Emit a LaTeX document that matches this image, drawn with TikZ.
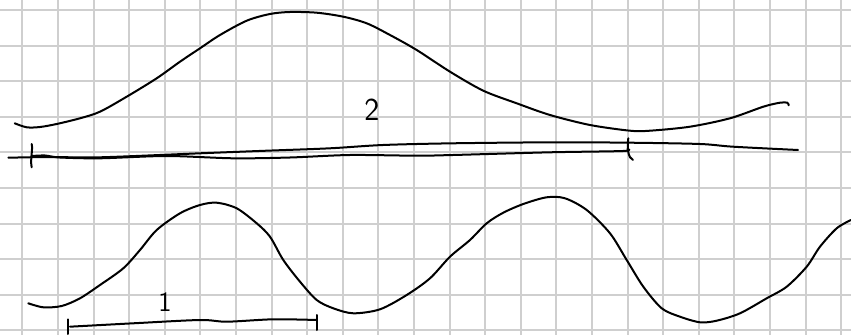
\documentclass[tikz,border=0pt]{standalone}
\usetikzlibrary{calc}

\begin{document}
\begin{tikzpicture}[x=0.75pt,y=-0.75pt,
    gridline/.style={draw=black!19, line width=1.5pt},
    pen/.style={draw=black, line width=1.5pt, line cap=round, line join=round},
    digit/.style={font=\sffamily\fontsize{24}{24}\selectfont, inner sep=0pt}]
    \useasboundingbox[fill=white] (0,0) rectangle (851,335);
    % squared paper
    \foreach \i in {0,...,23} \draw[gridline] ({22.3+35.6*\i},0) -- ({22.3+35.6*\i},335);
    \foreach \j in {0,...,9} \draw[gridline] (0,{10+35.6*\j}) -- (851,{10+35.6*\j});
    % long wave
    \draw[pen] plot[smooth, tension=0.5] coordinates {(14.7,123.3) (26.7,127.3) (40,127) (56.7,124) (80,118.3)
        (100,111.7) (126.7,96.7) (156.7,78.3) (180,61.7) (200,48.3) (220,35) (246.7,20.7) (270,14)
        (290,12) (316.7,12.7) (343.3,16.7) (366.7,23.3) (390,35) (416.7,50) (450,71.7) (483.3,90.7)
        (516.7,103.3) (550,115) (590,125) (630,130.7) (650,130.7) (690,126.7) (730,118.3) (763.3,106.7)
        (780,102.7) (787.3,102.7) (788.7,105.3)};
    % axis
    \draw[pen] plot[smooth, tension=0.5] coordinates {(8.3,157.7) (50,157) (100,157.3) (200,153.3)
        (266.7,150.7) (330,148.3) (383,145) (453,143.3) (553,142.3) (630,142.7) (700,144) (733,146.7) (798,150)};
    % span 2
    \draw[pen] plot[smooth, tension=0.5] coordinates {(31.7,156) (45,155.5) (60,157.5) (100,158.3)
        (166.7,156) (233.3,158.3) (290,157.5) (350,155) (416.7,155.7) (453,155) (550,152.3) (623,151) (627.5,149)};
    \coordinate (t2a) at (31.7,144);
    \coordinate (t2b) at (31.7,167.3);
    \draw[pen] (t2a) .. controls (33,150) and (30,160) .. (t2b);
    \coordinate (t2c) at (628.3,138.3);
    \coordinate (t2d) at (633,160);
    \draw[pen] (t2c) .. controls (627,148) and (628,158) .. (t2d);
    \node[digit] (lab2) at (372,109.5) {2};
    % short wave
    \draw[pen] plot[smooth, tension=0.5] coordinates {(28.3,303.3) (43.3,307.3) (61.7,306) (80,298.3)
        (100,285) (123.3,268.3) (140,250) (156.7,230) (180,213.3) (200,205) (216.7,202.7) (236.7,208.3)
        (256.7,223.3) (270,236.7) (283.3,260) (300,281.7) (316.7,300) (333.3,308.3) (353.3,313.3)
        (380,309.3) (406.7,295) (430,278.3) (450,256.7) (470,240) (486.7,223.3) (503.3,212.7) (523.3,204)
        (546.7,197.3) (565,198.3) (586.7,210) (610,233.3) (626.7,260) (643.3,286.7) (661.7,308.3)
        (680,316.7) (700,322.3) (716.7,320.7) (740,313.3) (766.7,298.3) (786.7,286.7) (806.7,266.7)
        (820,246.7) (836.7,228.3) (851,220)};
    % span 1
    \coordinate (t1a) at (68.3,319.3);
    \coordinate (t1b) at (68.3,334);
    \coordinate (t1c) at (316.7,315);
    \coordinate (t1d) at (316.7,330);
    \draw[pen] (t1a) -- (t1b);
    \draw[pen] (t1c) -- (t1d);
    \draw[pen] plot[smooth, tension=0.5] coordinates {(70,326.7) (133.3,323.3) (200,320) (226.7,321.7)
        (273.3,319.3) (316.7,320)};
    \node[digit, font=\sffamily\fontsize{21}{21}\selectfont] (lab1) at (165,301.7) {1};
\end{tikzpicture}
\end{document}
